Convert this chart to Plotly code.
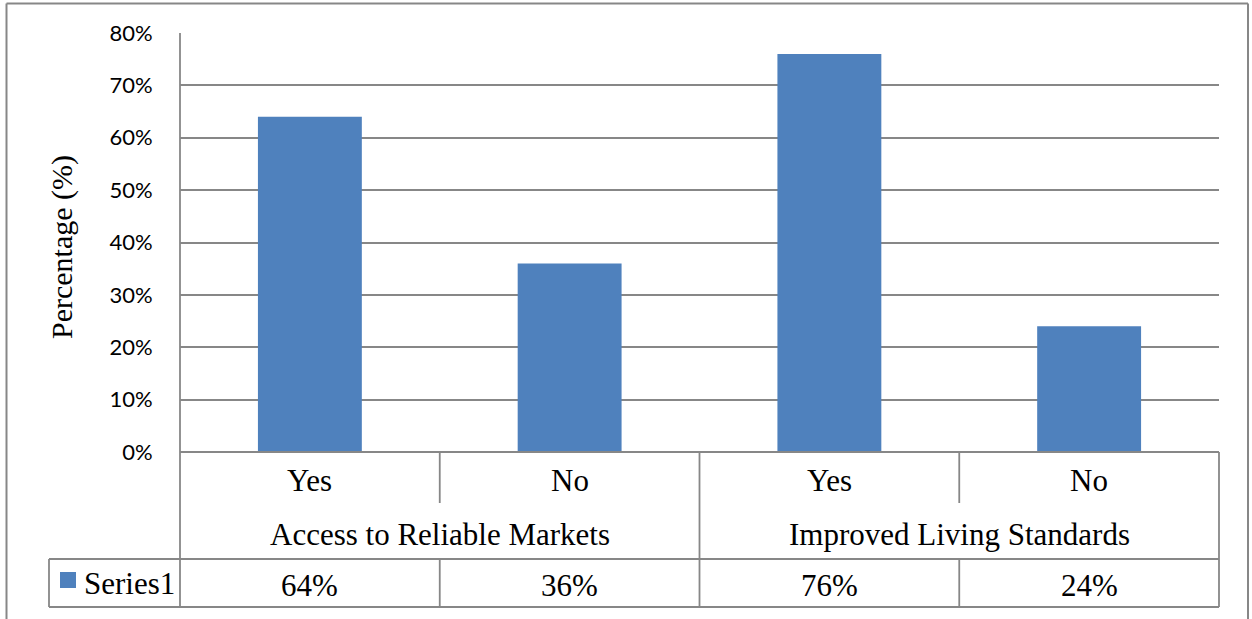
import plotly.graph_objects as go

# Chart data
groups = ["Access to Reliable Markets", "Improved Living Standards"]
answers = ["Yes", "No", "Yes", "No"]
series_name = "Series1"
values = [64, 36, 76, 24]
y_ticks = [0, 10, 20, 30, 40, 50, 60, 70, 80]

W, H = 1252, 619
L, R, T, B = 180, 33, 33, 167
plot_w = W - L - R
plot_h = H - T - B

BAR = "#4F81BD"
GRID = "#878787"
SERIF = "Liberation Serif"
SANS = "Lato"


def px_x(px):
    return (px - L) / plot_w


def px_y(py):
    return (H - B - py) / plot_h


x_idx = list(range(len(values)))

fig = go.Figure()
fig.add_trace(go.Bar(
    x=x_idx,
    y=values,
    width=0.4,
    marker=dict(color=BAR, line=dict(width=0)),
    name=series_name,
    showlegend=False,
    hoverinfo="skip",
))

shapes = []
line = dict(color=GRID, width=1.8)

# outer chart frame (open at the bottom)
frame = dict(color=GRID, width=2)
shapes.append(dict(type="line", xref="paper", yref="paper",
                   x0=px_x(6.5), x1=px_x(6.5), y0=px_y(3.5), y1=px_y(640), line=frame))
shapes.append(dict(type="line", xref="paper", yref="paper",
                   x0=px_x(6.5), x1=px_x(1248), y0=px_y(3.5), y1=px_y(3.5), line=frame))
shapes.append(dict(type="line", xref="paper", yref="paper",
                   x0=px_x(1248), x1=px_x(1248), y0=px_y(3.5), y1=px_y(640), line=frame))

# value axis line and data table grid
y_row1 = px_y(503)
y_row2 = px_y(559)
y_row3 = px_y(607)
shapes.append(dict(type="line", xref="paper", yref="paper", x0=0, x1=0, y0=1, y1=y_row3, line=line))
shapes.append(dict(type="line", xref="paper", yref="paper", x0=0, x1=1, y0=0, y1=0, line=line))
shapes.append(dict(type="line", xref="paper", yref="paper", x0=px_x(49), x1=1, y0=y_row2, y1=y_row2, line=line))
shapes.append(dict(type="line", xref="paper", yref="paper", x0=px_x(49), x1=1, y0=y_row3, y1=y_row3, line=line))
shapes.append(dict(type="line", xref="paper", yref="paper", x0=px_x(49), x1=px_x(49), y0=y_row2, y1=y_row3, line=line))
shapes.append(dict(type="line", xref="paper", yref="paper", x0=1, x1=1, y0=0, y1=y_row3, line=line))
for b in [0.5, 1.5, 2.5]:
    if b == 1.5:
        shapes.append(dict(type="line", xref="x", yref="paper", x0=b, x1=b, y0=0, y1=y_row3, line=line))
    else:
        shapes.append(dict(type="line", xref="x", yref="paper", x0=b, x1=b, y0=0, y1=y_row1, line=line))
        shapes.append(dict(type="line", xref="x", yref="paper", x0=b, x1=b, y0=y_row2, y1=y_row3, line=line))

# legend key swatch
shapes.append(dict(type="rect", xref="paper", yref="paper",
                   x0=px_x(60), x1=px_x(76), y0=px_y(572), y1=px_y(588),
                   fillcolor=BAR, line=dict(width=0)))

annotations = []
tfont = dict(family=SERIF, size=31, color="#000000")
for i, a in enumerate(answers):
    annotations.append(dict(text=a, x=i, y=px_y(480), xref="x", yref="paper",
                            showarrow=False, xanchor="center", yanchor="middle", font=tfont))
for g_i, g in enumerate(groups):
    annotations.append(dict(text=g, x=2 * g_i + 0.5, y=px_y(534), xref="x", yref="paper",
                            showarrow=False, xanchor="center", yanchor="middle", font=tfont))
for i, v in enumerate(values):
    annotations.append(dict(text=f"{v}%", x=i, y=px_y(585), xref="x", yref="paper",
                            showarrow=False, xanchor="center", yanchor="middle", font=tfont))
annotations.append(dict(text=series_name, x=px_x(82), y=px_y(583), xref="paper", yref="paper",
                        showarrow=False, xanchor="left", yanchor="middle", font=tfont))
annotations.append(dict(text="Percentage (%)", x=px_x(62), y=px_y(247), xref="paper", yref="paper",
                        showarrow=False, xanchor="center", yanchor="middle", textangle=-90,
                        font=dict(family=SERIF, size=30, color="#000000")))

fig.update_layout(
    width=W, height=H,
    margin=dict(l=L, r=R, t=T, b=B, pad=0),
    paper_bgcolor="white",
    plot_bgcolor="white",
    shapes=shapes,
    annotations=annotations,
    bargap=0.6,
    xaxis=dict(range=[-0.5, len(values) - 0.5], showticklabels=False, showgrid=False,
               zeroline=False, showline=False, ticks="", fixedrange=True),
    yaxis=dict(range=[0, 80], tickvals=y_ticks, ticktext=[f"{t}%" for t in y_ticks],
               showgrid=True, gridcolor=GRID, gridwidth=1.8, zeroline=False, showline=False,
               ticks="outside", ticklen=22, tickcolor="rgba(0,0,0,0)",
               tickfont=dict(family=SANS, size=22, color="#000000"), fixedrange=True),
)

fig.write_html("out.html")
